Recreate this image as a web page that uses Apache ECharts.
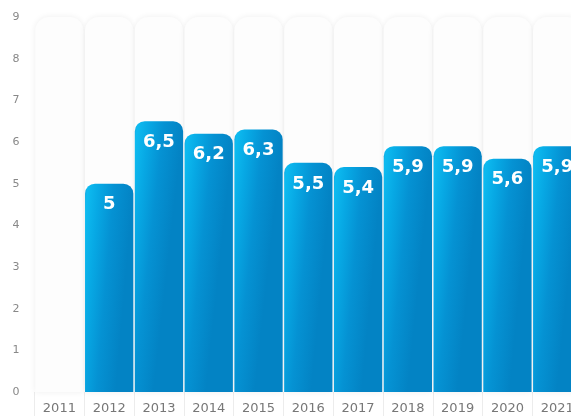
<!DOCTYPE html>
<html>
<head>
<meta charset="utf-8">
<script src="https://cdn.jsdelivr.net/npm/echarts@6/dist/echarts.min.js"></script>
<style>
html,body{margin:0;padding:0;background:#fff;overflow:hidden;}
#c{width:571px;height:416px;}
</style>
</head>
<body>
<div id="c"></div>
<script>
const years = ['2011','2012','2013','2014','2015','2016','2017','2018','2019','2020','2021'];
const values = [null, 5, 6.5, 6.2, 6.3, 5.5, 5.4, 5.9, 5.9, 5.6, 5.9];
const yTicks = [0,1,2,3,4,5,6,7,8,9];

const chart = echarts.init(document.getElementById('c'), null, {renderer:'canvas'});
const barGrad = new echarts.graphic.LinearGradient(0, 0, 1, 0.02, [
  {offset:0, color:'#1aa3dc'},
  {offset:0.06, color:'#0dbbf0'},
  {offset:0.3, color:'#07a8e4'},
  {offset:0.6, color:'#0592d3'},
  {offset:1, color:'#0383c4'}
]);
chart.setOption({
  animation:false,
  grid:{left:34.5, width:547.6, top:17, bottom:24, containLabel:false, outerBoundsMode:'none'},
  xAxis:{
    type:'category',
    data:years,
    axisLine:{show:false},
    axisTick:{show:true, length:24, lineStyle:{color:'#ececec', width:1}},
    axisLabel:{color:'#777', fontSize:13, fontFamily:'DejaVu Sans', margin:10}
  },
  yAxis:{
    type:'value',
    min:yTicks[0], max:yTicks[yTicks.length-1], interval:1,
    axisLine:{show:false},
    axisTick:{show:false},
    splitLine:{show:false},
    axisLabel:{color:'#888', fontSize:11, fontFamily:'DejaVu Sans', margin:15}
  },
  series:[{
    type:'bar',
    data:values,
    barCategoryGap:'3%',
    showBackground:true,
    backgroundStyle:{color:'#fdfdfd', borderRadius:[14,14,0,0], shadowBlur:6, shadowColor:'rgba(0,0,0,0.07)'},
    itemStyle:{color:barGrad, borderRadius:[10,10,0,0]},
    label:{
      show:true, position:'insideTop', distance:12,
      color:'#fff', fontSize:18, fontWeight:'bold', fontFamily:'DejaVu Sans',
      formatter:p => String(p.value).replace('.', ',')
    }
  }]
});
</script>
</body>
</html>
